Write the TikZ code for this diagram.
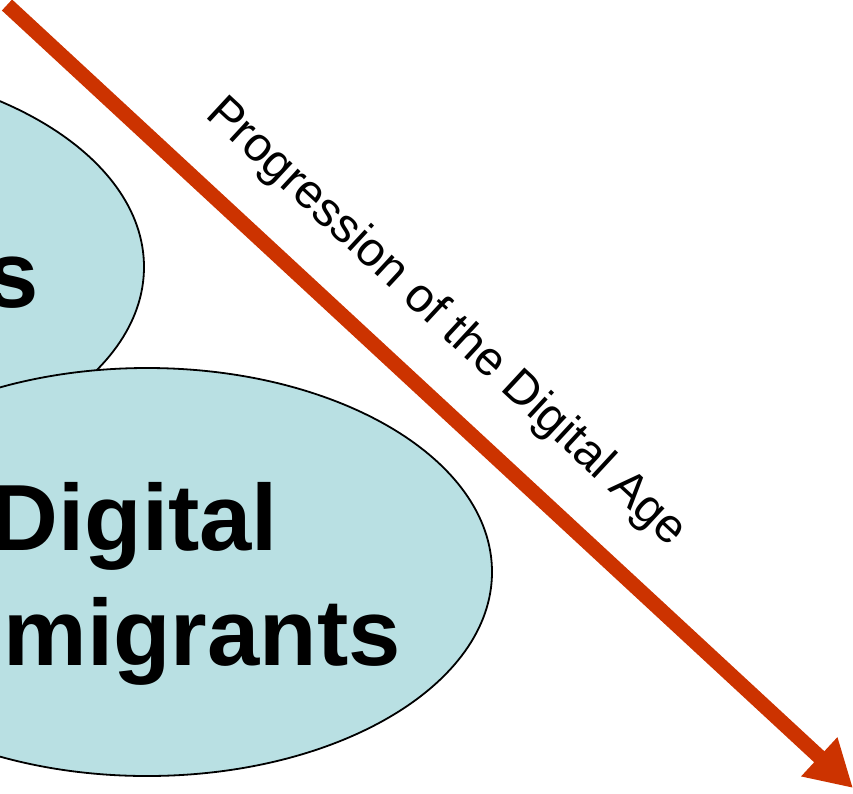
\documentclass[tikz,border=0pt]{standalone}
\usepackage{fontspec}
\setmainfont{Liberation Sans}
\usetikzlibrary{arrows.meta,shapes.geometric}
\definecolor{blobfill}{HTML}{B9E0E3}
\definecolor{arrowred}{HTML}{CC3300}
\tikzset{
  blob/.style={ellipse, draw=black, line width=1.8pt, fill=blobfill, inner sep=0pt,
    minimum width=690pt, minimum height=408pt},
  bigtext/.style={font=\bfseries\fontsize{94}{110}\selectfont, inner sep=0pt, anchor=base east},
  agearrow/.style={draw=arrowred, line width=15pt,
    -{Triangle[length=46pt,width=50pt]}},
  agelabel/.style={font=\fontsize{48}{55}\selectfont, inner sep=0pt, anchor=base west, rotate=-42.8}
}
\begin{document}
\begin{tikzpicture}[x=1pt,y=-1pt]
  \useasboundingbox (0,0) rectangle (853,793);
  \clip (0,0) rectangle (853,793);
  \node[blob] (natives) at (-201,267) {};
  \node[bigtext] (stext) at (39,307) {s};
  \node[blob] (immigrants) at (147,572) {};
  \node[bigtext] (dtext) at (278,550) {Digital};
  \node[bigtext] (mtext) at (401,665) {migrants};
  \coordinate (start) at (7,5);
  \coordinate (tip) at (853,788);
  \draw[agearrow] (start) -- (tip);
  \node[agelabel] (label) at (204,116) {Progression of the Digital Age};
\end{tikzpicture}
\end{document}
